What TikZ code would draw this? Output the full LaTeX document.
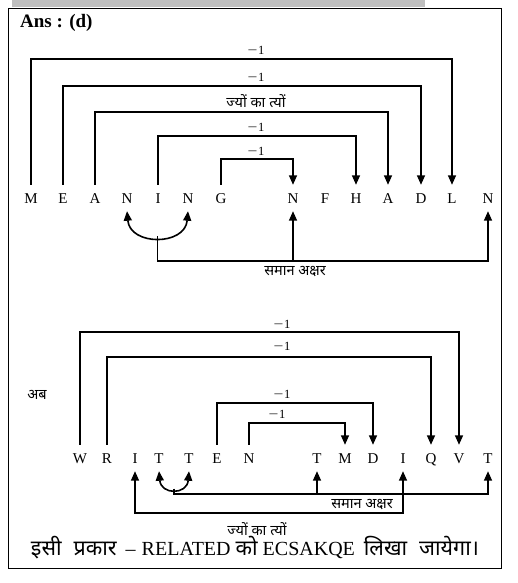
\documentclass[tikz,border=0pt]{standalone}
\usepackage{fontspec}
\usepackage{graphicx}
\setmainfont{Liberation Serif}
\newfontfamily\hindi[Script=Devanagari]{Noto Sans}
\usetikzlibrary{arrows.meta}
\newcommand{\mone}{\scalebox{1.4}[1]{−}\kern0.5pt 1}
\begin{document}
\begin{tikzpicture}[x=1pt,y=-1pt,
  ltr/.style={font=\fontsize{15}{15}\selectfont, text height=10pt, text depth=0pt, inner xsep=0pt, inner ysep=8pt, anchor=base},
  lbl/.style={font=\fontsize{12.5}{12.5}\selectfont, inner sep=0pt},
  hlbl/.style={font=\hindi\fontsize{14.5}{15}\selectfont, inner sep=0pt},
  conn/.style={line width=1.6pt},
  arr/.style={conn, -{Triangle[width=8pt,length=9.5pt]}},
  both/.style={conn, {Triangle[width=8pt,length=9.5pt]}-{Triangle[width=8pt,length=9.5pt]}}
]
\useasboundingbox (0,0) rectangle (517,583);
\fill[black!25] (12,0) rectangle (425,7.5);
\draw[line width=1pt] (8.5,8.5) rectangle (501,568.5);
\node[font=\bfseries\fontsize{19}{19}\selectfont, anchor=west, inner sep=0pt] (ans) at (20,23) {Ans : (d)};

% first row
\foreach \t/\x [count=\i] in {M/31,E/63,A/95,N/127,I/158,N/188,G/221,N/293,F/325,H/356,A/388,D/421,L/452,N/488}
  \node[ltr] (a\i) at (\x,203) {\t};
\coordinate (t1) at (0,59);
\coordinate (t2) at (0,86);
\coordinate (t3) at (0,112);
\coordinate (t4) at (0,136);
\coordinate (t5) at (0,159);
\draw[arr] (a1.north) -- (a1.north |- t1) -| (a13.north);
\draw[arr] (a2.north) -- (a2.north |- t2) -| (a12.north);
\draw[arr] (a3.north) -- (a3.north |- t3) -| (a11.north);
\draw[arr] (a5.north) -- (a5.north |- t4) -| (a10.north);
\draw[arr] (a7.north) -- (a7.north |- t5) -| (a8.north);
\node[lbl] (l1) at (256,50) {\mone};
\node[lbl] (l2) at (256,77) {\mone};
\node[hlbl] (l3) at (256,101) {ज्यों का त्यों};
\node[lbl] (l4) at (256,127) {\mone};
\node[lbl] (l5) at (256,151) {\mone};
\draw[both] (a4.south) .. controls (130,246) and (185,246) .. (a6.south);
\coordinate (j1) at (157.5,236);
\coordinate (u1) at (0,261);
\draw[arr] (j1) -- (j1 |- u1) -| (a14.south);
\draw[arr] (a8.south |- u1) -- (a8.south);
\node[hlbl] (s1) at (295,272) {समान अक्षर};

% second row
\node[hlbl] (ab) at (37,395) {अब};
\foreach \t/\x [count=\i] in {W/80,R/107,I/135,T/159,T/189,E/217,N/249,T/317,M/345,D/373,I/403,Q/431,V/459,T/488}
  \node[ltr] (b\i) at (\x,463) {\t};
\coordinate (v1) at (0,332);
\coordinate (v2) at (0,357);
\coordinate (v3) at (0,403);
\coordinate (v4) at (0,423);
\draw[arr] (b1.north) -- (b1.north |- v1) -| (b13.north);
\draw[arr] (b2.north) -- (b2.north |- v2) -| (b12.north);
\draw[arr] (b6.north) -- (b6.north |- v3) -| (b10.north);
\draw[arr] (b7.north) -- (b7.north |- v4) -| (b9.north);
\node[lbl] (m1) at (282,324) {\mone};
\node[lbl] (m2) at (282,346) {\mone};
\node[lbl] (m3) at (282,394) {\mone};
\node[lbl] (m4) at (277,414) {\mone};
\draw[both] (b4.south) .. controls (161,495) and (187,495) .. (b5.south);
\coordinate (j2) at (174,488.5);
\coordinate (u2) at (0,494);
\coordinate (u3) at (0,513);
\draw[arr] (j2) -- (j2 |- u2) -| (b14.south);
\draw[arr] (b8.south |- u2) -- (b8.south);
\draw[both] (b3.south) -- (b3.south |- u3) -| (b11.south);
\node[hlbl] (s2) at (362,505) {समान अक्षर};
\node[hlbl] (s3) at (257,529) {ज्यों का त्यों};
\node[font=\fontsize{20}{20}\selectfont, inner sep=0pt] (fin) at (255,548)
  {{\hindi\fontsize{21.5}{21.5}\selectfont इसी\hspace{12pt}प्रकार}\hspace{9pt}–\hspace{6pt}RELATED\hspace{5pt}{\hindi\fontsize{21.5}{21.5}\selectfont को}\hspace{5pt}ECSAKQE\hspace{9pt}{\hindi\fontsize{21.5}{21.5}\selectfont लिखा\hspace{12pt}जायेगा।}};
\end{tikzpicture}
\end{document}
